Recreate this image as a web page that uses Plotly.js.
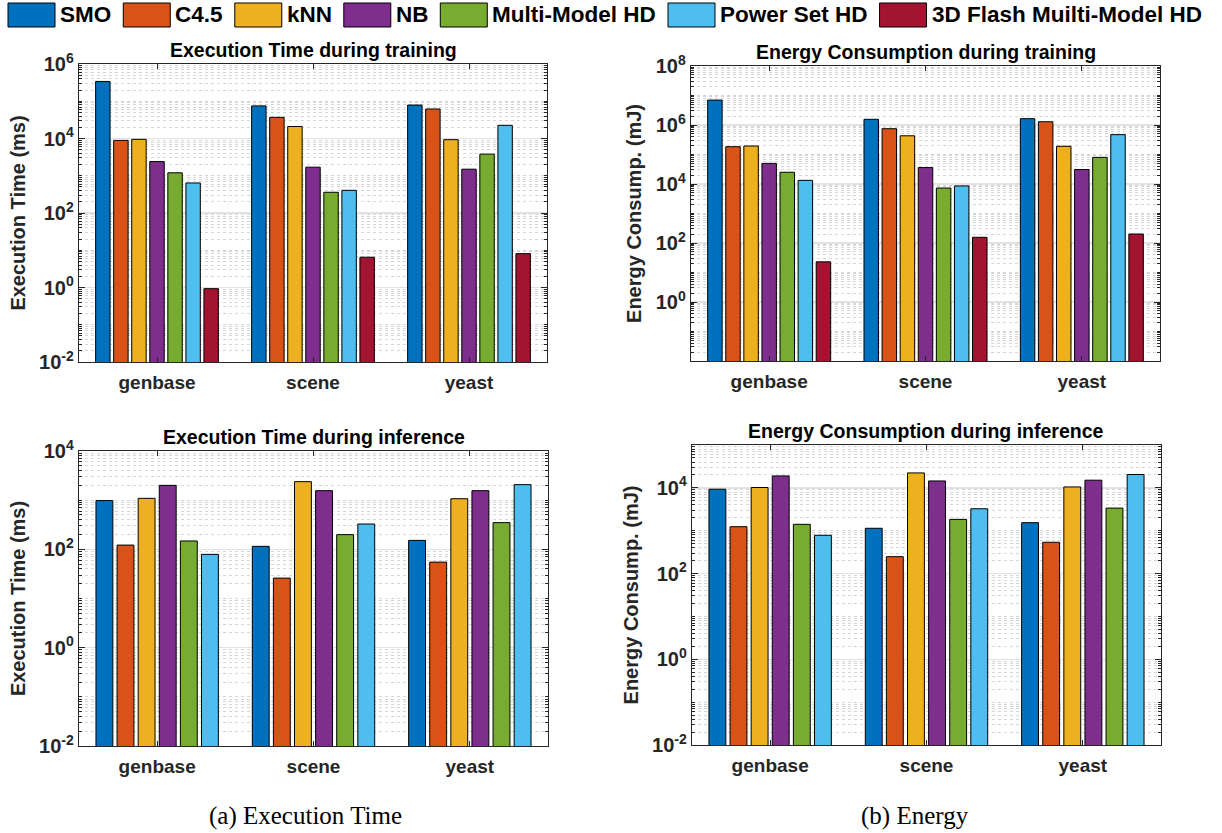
<!DOCTYPE html>
<html><head><meta charset="utf-8">
<script src="https://cdn.plot.ly/plotly-3.0.1.min.js"></script>
<style>html,body{margin:0;padding:0;background:#fff}#chart{width:1222px;height:833px}</style>
</head><body><div id="chart"></div>
<script>
// ---------------- data ----------------
const categories = ['genbase', 'scene', 'yeast'];
const seriesNames = ['SMO', 'C4.5', 'kNN', 'NB', 'Multi-Model HD', 'Power Set HD', '3D Flash Muilti-Model HD'];
const seriesColors = ['#0072BD', '#D95319', '#EDB120', '#7E2F8E', '#77AC30', '#4DBEEE', '#A2142F'];

// Execution time during training (ms): values for genbase, scene, yeast
const trainTimeSMO = [340000, 75000, 79000];
const trainTimeC45 = [8900, 37000, 62000];
const trainTimeKNN = [9500, 21000, 9300];
const trainTimeNB = [2400, 1700, 1500];
const trainTimeMM = [1200, 360, 3800];
const trainTimePS = [640, 406, 22600];
const trainTime3D = [0.93, 6.5, 8.1];

// Energy consumption during training (mJ)
const trainEnergySMO = [7000000, 1560000, 1640000];
const trainEnergyC45 = [184000, 750000, 1290000];
const trainEnergyKNN = [194000, 430000, 190000];
const trainEnergyNB = [50000, 36000, 31000];
const trainEnergyMM = [25000, 7300, 80000];
const trainEnergyPS = [13300, 8600, 470000];
const trainEnergy3D = [23, 156, 202];

// Execution time during inference (ms)
const inferTimeSMO = [980, 115, 152];
const inferTimeC45 = [122, 26, 55];
const inferTimeKNN = [1090, 2380, 1070];
const inferTimeNB = [2000, 1560, 1560];
const inferTimeMM = [148, 199, 349];
const inferTimePS = [79, 327, 2070];

// Energy consumption during inference (mJ)
const inferEnergySMO = [9300, 1140, 1540];
const inferEnergyC45 = [1240, 248, 537];
const inferEnergyKNN = [10200, 22300, 10500];
const inferEnergyNB = [19000, 14500, 15100];
const inferEnergyMM = [1410, 1840, 3370];
const inferEnergyPS = [782, 3250, 20500];

const panelTitles = ['Execution Time during training', 'Energy Consumption during training',
                     'Execution Time during inference', 'Energy Consumption during inference'];
const yTitles = ['Execution Time (ms)', 'Energy Consump. (mJ)', 'Execution Time (ms)', 'Energy Consump. (mJ)'];
const captions = ['(a) Execution Time', '(b) Energy'];

// ---------------- build ----------------
const FONT = 'Liberation Sans, Arial, Helvetica, sans-serif';
const W = 1222, H = 833;
const panels = [
  {series: [trainTimeSMO, trainTimeC45, trainTimeKNN, trainTimeNB, trainTimeMM, trainTimePS, trainTime3D],
   px: [79, 547], py: [64, 362], range: [-2, 6], labels: [-2, 0, 2, 4, 6]},
  {series: [trainEnergySMO, trainEnergyC45, trainEnergyKNN, trainEnergyNB, trainEnergyMM, trainEnergyPS, trainEnergy3D],
   px: [691, 1160], py: [66, 361], range: [-2, 8], labels: [0, 2, 4, 6, 8]},
  {series: [inferTimeSMO, inferTimeC45, inferTimeKNN, inferTimeNB, inferTimeMM, inferTimePS],
   px: [79, 548], py: [451, 746], range: [-2, 4], labels: [-2, 0, 2, 4]},
  {series: [inferEnergySMO, inferEnergyC45, inferEnergyKNN, inferEnergyNB, inferEnergyMM, inferEnergyPS],
   px: [692, 1161], py: [445, 745], range: [-2, 5], labels: [-2, 0, 2, 4]}
];

const traces = [];
const layout = {
  width: W, height: H,
  margin: {l: 0, r: 0, t: 0, b: 0},
  paper_bgcolor: '#ffffff', plot_bgcolor: '#ffffff',
  barmode: 'group', bargap: 0.19, bargroupgap: 0.2,
  showlegend: false,
  font: {family: FONT, color: '#262626'},
  annotations: [], shapes: []
};

panels.forEach((p, i) => {
  const n = i + 1;
  const xa = 'x' + (n === 1 ? '' : n), ya = 'y' + (n === 1 ? '' : n);
  p.series.forEach((vals, s) => {
    traces.push({
      type: 'bar', x: categories, y: vals, name: seriesNames[s],
      xaxis: xa, yaxis: ya,
      marker: {color: seriesColors[s], line: {color: '#000000', width: 1}},
      hoverinfo: 'skip'
    });
  });
  const xdom = [p.px[0] / W, p.px[1] / W];
  const ydom = [1 - p.py[1] / H, 1 - p.py[0] / H];
  const minorVals = [];
  for (let d = p.range[0]; d < p.range[1]; d++)
    for (let k = 2; k <= 10; k++) minorVals.push(k * Math.pow(10, d));
  layout['xaxis' + (n === 1 ? '' : n)] = {
    type: 'category', range: [-0.5, 2.5], domain: xdom, anchor: ya,
    ticks: 'inside', ticklen: 5, tickwidth: 1, tickcolor: '#262626',
    showline: true, linecolor: '#262626', linewidth: 1.2, mirror: 'ticks',
    showgrid: false, zeroline: false, fixedrange: true,
    tickfont: {family: FONT, size: 19, color: '#262626', weight: 'bold'},
    ticklabelstandoff: 3
  };
  layout['yaxis' + (n === 1 ? '' : n)] = {
    type: 'log', range: p.range, domain: ydom, anchor: xa,
    tickmode: 'array',
    tickvals: p.labels.map(e => Math.pow(10, e)),
    ticktext: p.labels.map(e => '10<sup>' + (e < 0 ? '-' : '') + Math.abs(e) + '</sup>'),
    ticks: 'inside', ticklen: 6, tickwidth: 1, tickcolor: '#262626',
    showline: true, linecolor: '#262626', linewidth: 1.2, mirror: 'ticks',
    showgrid: true, gridcolor: '#e2e2e2', gridwidth: 1.3, zeroline: false, fixedrange: true,
    minor: {tickmode: 'array', tickvals: minorVals, ticks: 'inside', ticklen: 3, tickcolor: '#262626',
            showgrid: true, gridcolor: '#d6d6d6', griddash: 'dot', gridwidth: 1},
    tickfont: {family: FONT, size: 20, color: '#262626', weight: 'bold'},
    title: {text: yTitles[i], font: {family: FONT, size: 20, color: '#262626', weight: 'bold'}, standoff: 8}
  };
  layout.annotations.push({
    text: panelTitles[i], xref: 'paper', yref: 'paper',
    x: (p.px[0] + p.px[1]) / 2 / W, y: 1 - (p.py[0] - 14) / H,
    xanchor: 'center', yanchor: 'middle', showarrow: false,
    font: {family: FONT, size: 19.5, color: '#000000', weight: 'bold'}
  });
});

// legend built from series names / colours
(function () {
  const size = 22.5;
  const ctx = document.createElement('canvas').getContext('2d');
  ctx.font = 'bold ' + size + 'px "Liberation Sans", Arial, sans-serif';
  let x = 8;
  const swW = 47, gap1 = 5, gap2 = 12, yTop = 3, yBot = 27;
  seriesNames.forEach((name, s) => {
    layout.shapes.push({type: 'rect', xref: 'paper', yref: 'paper',
      x0: x / W, x1: (x + swW) / W, y0: 1 - yBot / H, y1: 1 - yTop / H,
      fillcolor: seriesColors[s], line: {color: '#000000', width: 1}});
    const tx = x + swW + gap1;
    layout.annotations.push({text: name, xref: 'paper', yref: 'paper',
      x: tx / W, y: 1 - ((yTop + yBot) / 2) / H, xanchor: 'left', yanchor: 'middle',
      showarrow: false, xshift: -2, font: {family: FONT, size: size, color: '#000000', weight: 'bold'}});
    x = tx + ctx.measureText(name).width + gap2;
  });
})();

// captions
[[305, captions[0]], [915, captions[1]]].forEach(([cx, t]) => {
  layout.annotations.push({text: t, xref: 'paper', yref: 'paper', x: cx / W, y: 1 - 816 / H,
    xanchor: 'center', yanchor: 'middle', showarrow: false,
    font: {family: 'Liberation Serif, Times New Roman, serif', size: 25, color: '#000000'}});
});

Plotly.newPlot('chart', traces, layout, {staticPlot: true, displayModeBar: false});
</script>
</body></html>
